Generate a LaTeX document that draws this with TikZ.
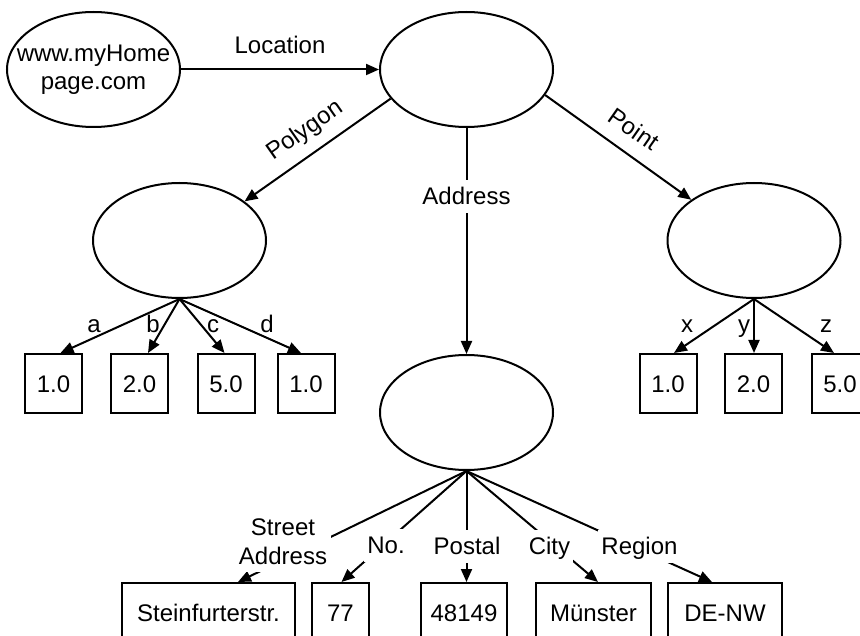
\documentclass[tikz,border=0pt]{standalone}
\usepackage{fontspec}
\setmainfont{Liberation Sans}
\usetikzlibrary{shapes.geometric,arrows.meta}
\begin{document}
\begin{tikzpicture}[x=1pt,y=-1pt,
  line width=2pt,
  font=\fontsize{24}{28.5}\selectfont,
  oval/.style={ellipse,draw,minimum width=173pt,minimum height=115pt,inner sep=0pt},
  valbox/.style={draw,minimum height=59pt,inner sep=0pt,text height=17pt,text depth=0pt},
  arr/.style={-{Triangle[length=13pt,width=11pt]}},
  lbl/.style={fill=white,inner xsep=3pt,inner ysep=8pt,text height=17pt,text depth=0pt},
  lbltwo/.style={fill=white,inner xsep=4pt,inner ysep=8pt,align=center},
  plain/.style={inner sep=0pt,anchor=base},
]
\useasboundingbox (0,0) rectangle (860,636);

% ellipses
\node[oval,label={[align=center]center:www.myHome\\page.com}] (home) at (93.5,69.5) {};
\node[oval] (root) at (466.5,69.5) {};
\node[oval] (poly) at (179.5,240.5) {};
\node[oval] (pt) at (754,240.5) {};
\node[oval] (addr) at (466.5,412.5) {};

% polygon values
\node[valbox,minimum width=57pt] (pa) at (53.5,383.5) {1.0};
\node[valbox,minimum width=57pt] (pb) at (139.5,383.5) {2.0};
\node[valbox,minimum width=57pt] (pc) at (226,383.5) {5.0};
\node[valbox,minimum width=57pt] (pd) at (306,383.5) {1.0};

% point values
\node[valbox,minimum width=57pt] (qx) at (668,383.5) {1.0};
\node[valbox,minimum width=57pt] (qy) at (753.5,383.5) {2.0};
\node[valbox,minimum width=57pt] (qz) at (840,383.5) {5.0};

% address values
\node[valbox,minimum width=173pt] (sa) at (208.5,612.5) {Steinfurterstr.};
\node[valbox,minimum width=57pt] (no) at (340.5,612.5) {77};
\node[valbox,minimum width=86pt] (pc2) at (464,612.5) {48149};
\node[valbox,minimum width=115pt] (ci) at (593.5,612.5) {Münster};
\node[valbox,minimum width=114pt] (re) at (725,612.5) {DE-NW};

% top connectors
\draw[arr] (home) -- (root);
\node[plain] (locl) at (280,54) {Location};

\draw[arr] (root.201.7) -- (poly.31);
\node[rotate=35] (polyl) at (305,131) {Polygon};

\draw[arr] (root.342) -- (pt.147.8);
\node[rotate=-35] (ptl) at (634,129) {Point};

\draw[arr] (root.south) -- (addr.north);
\node[lbl] (addrl) at (466.5,196.5) {Address};

% polygon children
\draw[arr] (poly.south) -- ([xshift=7pt]pa.north);
\draw[arr] (poly.south) -- ([xshift=8.5pt]pb.north);
\draw[arr] (poly.south) -- ([xshift=-1.5pt]pc.north);
\draw[arr] (poly.south) -- ([xshift=-5pt]pd.north);
\node[plain] (la) at (94,333) {a};
\node[plain] (lb) at (153,333) {b};
\node[plain] (lc) at (213,333) {c};
\node[plain] (ld) at (267,333) {d};

% point children
\draw[arr] (pt.south) -- ([xshift=6pt]qx.north);
\draw[arr] (pt.south) -- ([xshift=0.5pt]qy.north);
\draw[arr] (pt.south) -- ([xshift=-6pt]qz.north);
\node[plain] (lx) at (687,333) {x};
\node[plain] (ly) at (744,333) {y};
\node[plain] (lz) at (826,333) {z};

% address children
\draw[arr] (addr.south) -- ([xshift=29.5pt]sa.north);
\draw[arr] (addr.south) -- ([xshift=1pt]no.north);
\draw[arr] (addr.south) -- ([xshift=2.5pt]pc2.north);
\draw[arr] (addr.south) -- ([xshift=4.5pt]ci.north);
\draw[arr] (addr.south) -- ([xshift=-13pt]re.north);
\node[lbltwo] (lsa) at (283,541.5) {Street\\Address};
\node[lbl] (lno) at (386,545) {No.};
\node[lbl] (lpo) at (467,546) {Postal};
\node[lbl] (lci) at (549.5,546) {City};
\node[lbl] (lre) at (639.5,546) {Region};
\end{tikzpicture}
\end{document}
